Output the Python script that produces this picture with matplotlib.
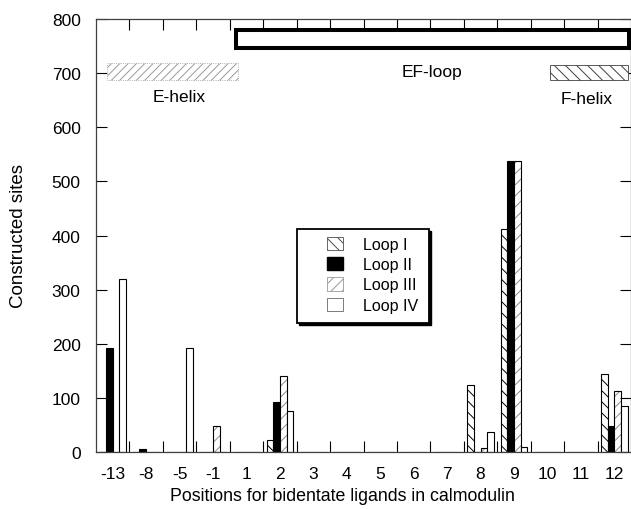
import numpy as np
import matplotlib
matplotlib.use('Agg')
import matplotlib.pyplot as plt
from matplotlib.patches import Rectangle, Patch

plt.rcParams['font.family'] = ['Liberation Sans', 'DejaVu Sans']
plt.rcParams['hatch.linewidth'] = 0.7

# positions (x categories) and constructed sites for each loop
positions = ['-13', '-8', '-5', '-1', '1', '2', '3', '4', '5', '6', '7', '8', '9', '10', '11', '12']
loop1 = [0, 0, 0, 0, 0, 22, 0, 0, 0, 0, 0, 124, 413, 0, 0, 144]
loop2 = [193, 7, 0, 0, 0, 93, 0, 0, 0, 0, 0, 0, 537, 0, 0, 48]
loop3 = [0, 0, 0, 48, 0, 140, 0, 0, 0, 0, 0, 8, 537, 0, 0, 113]
loop4 = [320, 0, 192, 0, 0, 77, 0, 0, 0, 0, 0, 38, 9, 0, 0, 86]
loop_names = ['Loop I', 'Loop II', 'Loop III', 'Loop IV']

fig = plt.figure(figsize=(6.31, 5.10), dpi=100)
ax = fig.add_axes([96/631, 1 - 453.3/510, (631 - 96)/631, (453.3 - 20)/510])

x = np.arange(len(positions))
w = 0.2

ax.bar(x - 1.5*w, loop1, w, color='white', edgecolor='black', linewidth=0.8, hatch='\\\\\\')
ax.bar(x - 0.5*w, loop2, w, color='black', edgecolor='black', linewidth=0.8)
ax.bar(x + 0.5*w, loop3, w, color='white', edgecolor='0.55', linewidth=0, hatch='///')
ax.bar(x + 0.5*w, loop3, w, fill=False, edgecolor='black', linewidth=0.8)
ax.bar(x + 1.5*w, loop4, w, color='white', edgecolor='black', linewidth=0.8)

# structure boxes on top
ax.add_patch(Rectangle((3.69, 746), 15.45 - 3.69, 779 - 746, fill=False,
                       edgecolor='black', linewidth=2.9, zorder=5))
ax.add_patch(Rectangle((-0.17, 688), 3.74 + 0.17, 719 - 688, facecolor='white',
                       edgecolor='0.6', linewidth=0.6, linestyle=':', hatch='////', zorder=5))
ax.add_patch(Rectangle((13.09, 687), 15.42 - 13.09, 715 - 687, facecolor='white',
                       edgecolor='0.25', linewidth=0.6, hatch='\\\\\\', zorder=5))
ax.text(1.99, 657, 'E-helix', ha='center', va='center', fontsize=12.5)
ax.text(9.56, 703, 'EF-loop', ha='center', va='center', fontsize=12.5)
ax.text(14.16, 653, 'F-helix', ha='center', va='center', fontsize=12.5)

ax.set_xlim(-0.5, 15.5)
ax.set_ylim(0, 800)
ax.set_xticks(x)
ax.set_xticklabels(positions, fontsize=12.5)
ax.set_xticks(np.arange(0.5, 15.5, 1), minor=True)
ax.set_yticks(np.arange(0, 801, 100))
ax.tick_params(axis='y', labelsize=12.5, direction='in', left=True, right=True, length=8, pad=11, width=0.8)
ax.tick_params(axis='x', which='major', length=0, pad=10)
ax.tick_params(axis='x', which='minor', direction='in', top=True, bottom=True, length=8, width=0.8)
for s in ax.spines.values():
    s.set_linewidth(0.9)
    s.set_color('0.25')

ax.set_ylabel('Constructed sites', fontsize=13.5)
ax.yaxis.label.set_va('center')
ax.yaxis.set_label_coords((19 - 96) / 535, 0.5015)
ax.set_xlabel('Positions for bidentate ligands in calmodulin', fontsize=12.8)
ax.xaxis.label.set_va('center')
ax.xaxis.set_label_coords((342 - 96) / 535, -0.1008)

# legend box with shadow
bx0, bx1, by0, by1 = 0.3763, 0.6215, 0.2984, 0.5153
ax.add_patch(Rectangle((bx0 + 0.004, by0 - 0.005), bx1 - bx0, by1 - by0,
                       transform=ax.transAxes, facecolor='black', edgecolor='black', zorder=6))
ax.add_patch(Rectangle((bx0, by0), bx1 - bx0, by1 - by0,
                       transform=ax.transAxes, facecolor='white', edgecolor='black',
                       linewidth=1.3, zorder=7))
handles = [Patch(facecolor='white', edgecolor='0.3', linewidth=0.6, hatch='\\\\\\'),
           Patch(facecolor='black', edgecolor='black'),
           Patch(facecolor='white', edgecolor='0.6', linewidth=0.6, hatch='///'),
           Patch(facecolor='white', edgecolor='0.4', linewidth=0.6)]
leg = ax.legend(handles, loop_names, loc='upper left', bbox_to_anchor=(0.431, 0.498),
                frameon=False, borderpad=0, borderaxespad=0, fontsize=11.5,
                handlelength=1.05, handleheight=0.9, handletextpad=1.2, labelspacing=0.33)
leg.set_zorder(8)

fig.savefig('out.png', dpi=100)
